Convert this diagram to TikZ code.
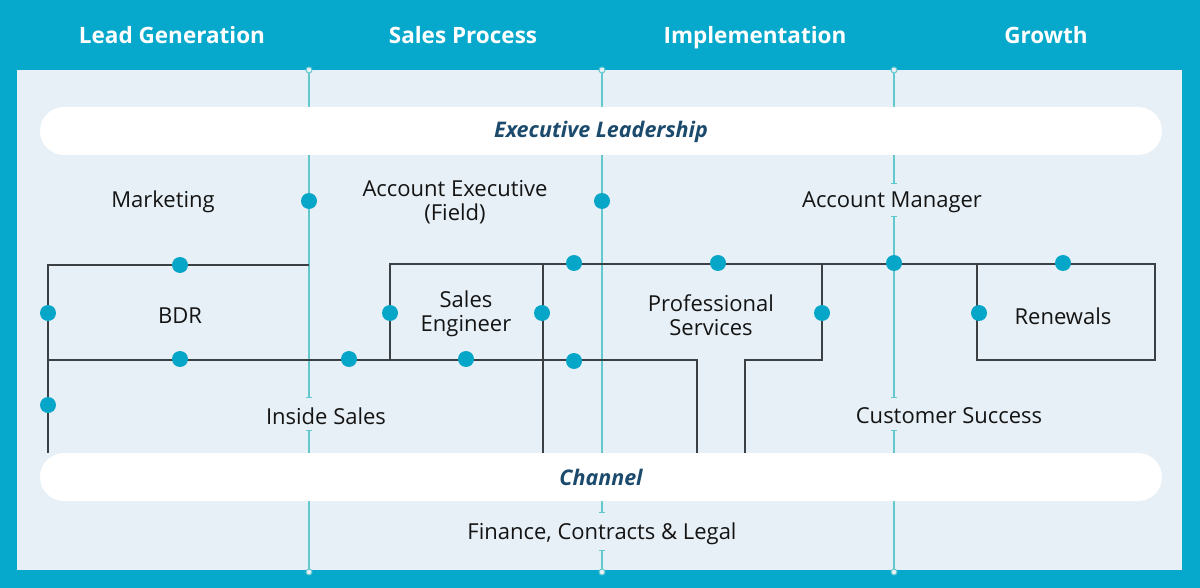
\documentclass[tikz,border=0pt]{standalone}
\usepackage{fontspec}
\setmainfont{Open Sans}
\definecolor{frame}{HTML}{06A8CB}
\definecolor{panel}{HTML}{E7F0F6}
\definecolor{vline}{HTML}{62C8CE}
\definecolor{dotc}{HTML}{06A6C9}
\definecolor{gline}{HTML}{3B4045}
\definecolor{navy}{HTML}{1B4A6C}
\begin{document}
\begin{tikzpicture}[x=1pt,y=-1pt,
  hdr/.style={text=white,font=\fontsize{22.5}{27}\selectfont\bfseries,anchor=base},
  lbl/.style={text=black!92,font=\fontsize{22}{24}\selectfont,align=center},
  bar/.style={fill=white,rounded corners=24pt,draw=none},
  bart/.style={text=navy,font=\fontsize{21.5}{25}\selectfont\bfseries\itshape,anchor=base},
  vl/.style={draw=vline,line width=1.3pt},
  gl/.style={draw=gline,line width=1.1pt},
  dot/.style={circle,fill=dotc,inner sep=0pt,minimum size=16pt},
  endc/.style={circle,draw=vline,fill=panel,line width=1pt,inner sep=0pt,minimum size=6pt}]
\fill[frame] (0,0) rectangle (1200,588);
\fill[panel] (17,70) rectangle (1182,570);
\node[hdr] (h1) at (172,44) {Lead Generation};
\node[hdr] (h2) at (463,44) {Sales Process};
\node[hdr] (h3) at (755,44) {Implementation};
\node[hdr] (h4) at (1046,44) {Growth};
% vertical teal lines
\foreach \x/\n in {309/a,602/b,894/c}{
  \coordinate (t\n) at (\x,70); \coordinate (b\n) at (\x,572);}
\draw[vl] (ta) -- (309,397); \draw[vl] (309,430) -- (ba);
\draw[vl] (tb) -- (602,512); \draw[vl] (602,550) -- (bb);
\draw[vl] (tc) -- (894,184); \draw[vl] (894,217) -- (894,397); \draw[vl] (894,430) -- (bc);
\foreach \p in {(309,397),(309,430),(602,512),(602,550),(894,184),(894,217),(894,397),(894,430)}
  \draw[vl,line width=1pt] \p ++(-3,0) -- ++(6,0);
\node[endc] at (ta) {}; \node[endc] at (ba) {};
\node[endc] at (tb) {}; \node[endc] at (bb) {};
\node[endc] at (tc) {}; \node[endc] at (bc) {};
% gray lines
\draw[gl] (309,265) -- (48,265) -- (48,453);
\draw[gl] (49,360) -- (697,360) -- (697,453);
\draw[gl] (390,360) -- (390,264) -- (1155,264) -- (1155,360) -- (977,360) -- (977,264);
\draw[gl] (543,264) -- (543,453);
\draw[gl] (822,264) -- (822,360) -- (745,360) -- (745,453);
% bars
\draw[bar] (40,107) rectangle (1162,155);
\node[bart] (exec) at (601,138) {Executive Leadership};
\draw[bar] (40,453) rectangle (1162,501);
\node[bart] (chan) at (601,485) {Channel};
% labels
\node[lbl] (mkt) at (163,202) {Marketing};
\node[lbl] (ae) at (455,202) {Account Executive\\(Field)};
\node[lbl] (am) at (892,202) {Account Manager};
\node[lbl] (bdr) at (180,316) {BDR};
\node[lbl] (se) at (466,314) {Sales\\Engineer};
\node[lbl] (ps) at (711,315) {Professional\\Services};
\node[lbl] (ren) at (1063,316) {Renewals};
\node[lbl] (is) at (326,416) {Inside Sales};
\node[lbl] (cs) at (949,416) {Customer Success};
\node[lbl] (fin) at (602,534) {Finance, Contracts \& Legal};
% dots
\foreach \p in {(309,201),(602,201),(180,265),(48,313),(180,359),(349,359),(48,405),(390,313),(466,359),(542,313),(574,263),(574,361),(718,263),(822,313),(894,263),(1063,263),(979,313)}
  \node[dot] at \p {};
\end{tikzpicture}
\end{document}
